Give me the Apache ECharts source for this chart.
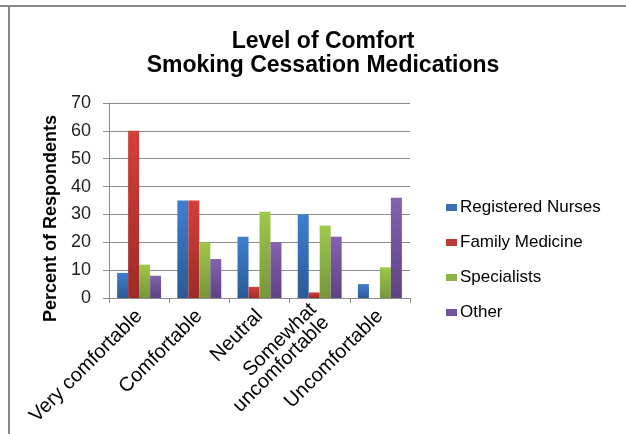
<!DOCTYPE html>
<html>
<head>
<meta charset="utf-8">
<script src="https://cdn.jsdelivr.net/npm/echarts@6/dist/echarts.min.js"></script>
<style>html,body{margin:0;padding:0;background:#fff}#c{width:626px;height:434px}</style>
</head>
<body>
<div id="c"></div>
<script>
var categories = ['Very comfortable', 'Comfortable', 'Neutral', 'Somewhat\nuncomfortable', 'Uncomfortable'];
var seriesNames = ['Registered Nurses', 'Family Medicine', 'Specialists', 'Other'];
var nurses = [9, 35, 22, 30, 5];
var familyMedicine = [60, 35, 4, 2, null];
var specialists = [12, 20, 31, 26, 11];
var other = [8, 14, 20, 22, 36];
var yTicks = [0, 10, 20, 30, 40, 50, 60, 70];

var colors = [
  ['#3f7fd0', '#2b5a96'],
  ['#d43f3b', '#9c2b28'],
  ['#9ec94a', '#76963a'],
  ['#8462ae', '#5e4383']
];
function grad(c) {
  return new echarts.graphic.LinearGradient(0, 0, 0, 1, [
    {offset: 0, color: c[0]}, {offset: 1, color: c[1]}
  ]);
}
var dataSets = [nurses, familyMedicine, specialists, other];
var legendColors = ['#3a6eb5', '#be3c38', '#8db346', '#7352a0'];
var FONT = 'Liberation Sans, Arial';

var chart = echarts.init(document.getElementById('c'), null, {renderer: 'canvas'});
chart.setOption({
  backgroundColor: '#fff',
  animation: false,
  title: {
    text: 'Level of Comfort\nSmoking Cessation Medications',
    left: 318, top: 25, textAlign: 'center',
    textStyle: {fontFamily: FONT, fontWeight: 'bold', fontSize: 23, lineHeight: 24, color: '#000'}
  },
  legend: {
    orient: 'vertical', left: 446, top: 199, padding: 0,
    itemWidth: 11, itemHeight: 7, itemGap: 18,
    icon: 'rect',
    data: seriesNames.map(function (n, i) { return {name: n, itemStyle: {color: legendColors[i]}}; }),
    textStyle: {fontFamily: FONT, fontSize: 17, color: '#000', padding: [0, 0, 0, -2]}
  },
  grid: {left: 109, right: 216, top: 103, bottom: 136},
  xAxis: {
    type: 'category', data: categories,
    axisLine: {lineStyle: {color: '#8c8c8c', width: 1}},
    axisTick: {show: true, length: 5, lineStyle: {color: '#8c8c8c'}},
    axisLabel: {rotate: 45, interval: 0, fontFamily: FONT, fontSize: 20, color: '#000', lineHeight: 18, margin: 15}
  },
  yAxis: {
    type: 'value', min: 0, max: 70, interval: 10,
    name: 'Percent of Respondents', nameLocation: 'middle', nameGap: 49, nameRotate: 90,
    nameTextStyle: {fontFamily: FONT, fontWeight: 'bold', fontSize: 18, color: '#000', padding: [0, 36, 0, 0]},
    axisLine: {show: true, lineStyle: {color: '#8c8c8c'}},
    axisTick: {show: true, length: 6, lineStyle: {color: '#8c8c8c'}},
    axisLabel: {fontFamily: FONT, fontSize: 18, color: '#222', margin: 18,
      formatter: function (v) { return yTicks.indexOf(v) >= 0 ? String(v) : ''; }},
    splitLine: {lineStyle: {color: '#8c8c8c', width: 1}}
  },
  series: dataSets.map(function (d, i) {
    return {
      name: seriesNames[i], type: 'bar', data: d,
      barGap: '0%', barCategoryGap: '27%',
      itemStyle: {color: grad(colors[i])}
    };
  }),
  graphic: [
    {type: 'rect', shape: {x: 0, y: 5, width: 626, height: 2}, style: {fill: '#888'}, z: 100},
    {type: 'rect', shape: {x: 8, y: 5, width: 2, height: 429}, style: {fill: '#888'}, z: 100}
  ]
});
</script>
</body>
</html>
